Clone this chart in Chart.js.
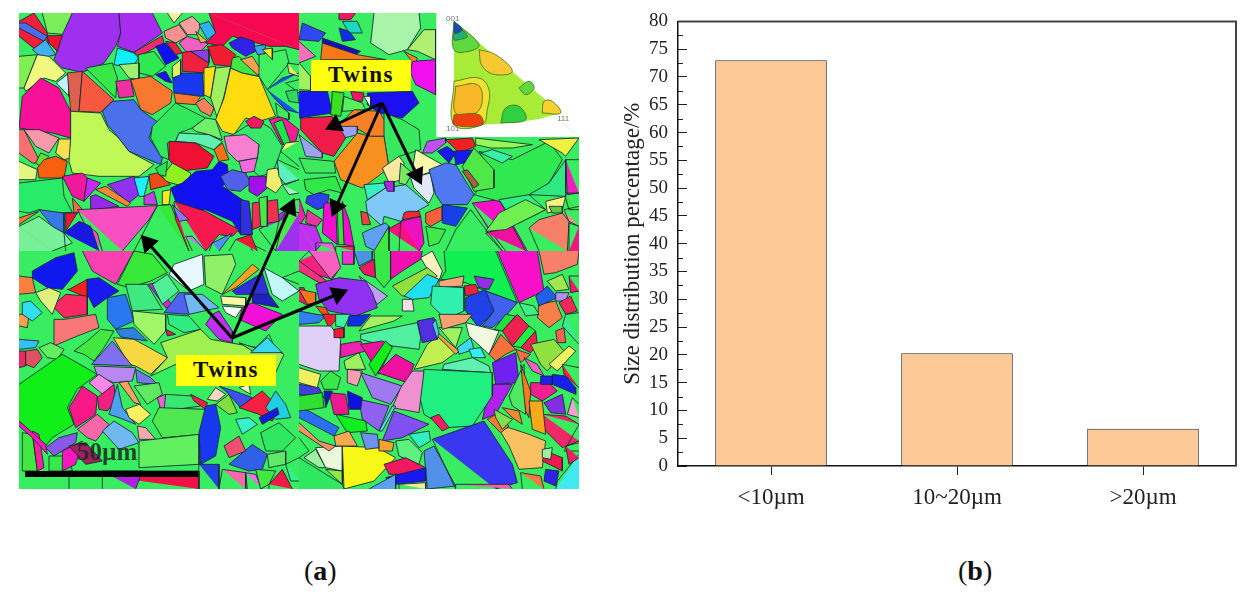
<!DOCTYPE html>
<html>
<head>
<meta charset="utf-8">
<script src="https://cdn.jsdelivr.net/npm/chart.js@4/dist/chart.umd.min.js"></script>
<style>
  html, body { margin: 0; padding: 0; background: #fff; }
  body { position: relative; width: 1254px; height: 598px; overflow: hidden; font-family: "Liberation Serif", serif; }
  canvas { position: absolute; }
  #mapChart { left: 19px; top: 13px; filter: blur(0.55px); }
  #barChart { left: 610px; top: -9px; }
  .tag { position: absolute; background: #ffff10; font: bold 23px "Liberation Serif", serif; letter-spacing: 1.5px;
         color: #111; text-align: center; width: 100px; height: 31px; line-height: 30px; }
  .pole { position: absolute; font: 8px "Liberation Sans", sans-serif; color: #777; }
  .caption { position: absolute; top: 555px; font: 28px "Liberation Serif", serif; color: #111; }
  #scaleText { position: absolute; left: 77px; top: 438px; font: bold 25px "Liberation Serif", serif; color: #1a2a20; opacity: .85; }
</style>
</head>
<body>
<canvas id="mapChart" width="560" height="476" style="width:560px;height:476px"></canvas>
<canvas id="barChart" width="640" height="539" style="width:640px;height:539px"></canvas>
<div class="tag" style="left:311px;top:60px">Twins</div>
<div class="tag" style="left:176px;top:355px">Twins</div>
<div id="scaleText">50µm</div>
<div class="pole" style="left:446px;top:14px">001</div>
<div class="pole" style="left:446px;top:124px">101</div>
<div class="pole" style="left:557px;top:114px">111</div>
<div class="caption" style="left:304px">(<b>a</b>)</div>
<div class="caption" style="left:958px">(<b>b</b>)</div>
<script>
// bar chart values
const sizeLabels = ['<10µm', '10~20µm', '>20µm'];
const sizeShare = [73, 20.3, 6.7];
const minorTicks = [2.5, 7.5, 12.5, 17.5, 22.5, 27.5, 32.5, 37.5, 42.5, 47.5, 52.5, 57.5, 62.5, 67.5, 72.5, 77.5];

// grain outlines, [colour, x, y, x, y...] in 3x units of each quarter
const grainsTL = [
  ['#f0203c',0,25,45,0,85,60,90,110,50,110,0,70],['#4a6ee8',0,30,20,30,85,70,75,85,0,45],['#78ee58',70,0,160,0,140,65,85,60],
  ['#a030f0',160,0,300,0,305,60,290,100,255,150,190,178,130,165,105,140,130,65],['#a82cf0',300,0,400,0,430,60,345,118,295,100,305,60],
  ['#f01030',85,68,130,68,115,115,90,90],['#40b0f0',40,110,80,80,110,125,70,135],['#f02a70',345,118,430,68,435,90,360,130],
  ['#80f050',0,130,55,125,15,225,0,225],['#f0f880',55,125,90,130,140,180,110,205,75,195,20,235,15,225],
  ['#10f0f8',295,105,345,120,358,135,340,165,285,155],['#30e850',358,125,405,115,440,160,400,190,360,180],['#a0f070',300,155,360,150,360,200,330,195],
  ['#c0f4ff',112,210,150,180,150,250],['#e06050',145,180,190,175,180,295,155,295],['#38e848',200,165,280,150,295,195,290,255],['#f85840',190,175,285,260,245,298,180,295],
  ['#f030a0',290,205,335,200,345,250,300,255],['#f87830',335,200,395,190,460,235,455,270,400,305,365,290],['#1010f0',410,100,440,90,480,135,440,155],
  ['#f89090',435,55,480,35,505,70,470,90,440,75],['#f8a0a0',480,30,520,10,545,35,535,65,505,65],['#f8f0a0',445,0,490,0,465,30],['#f060c0',480,90,505,70,570,90,540,120,500,115],
  ['#f02040',440,85,470,90,490,120,470,125],['#30b0f0',540,35,570,25,592,60,565,80],['#f8b040',530,55,565,85,545,90],
  ['#f80850',570,0,840,0,840,110,800,100,750,100,640,70,610,100,560,90,590,60],['#f02040',490,118,515,115,570,150,560,180,490,175],['#f01c30',565,100,610,95,650,125,635,160,585,155],
  ['#3020e8',630,90,665,72,705,85,710,115,680,130,640,105],['#40a0f0',705,100,740,95,735,125,715,125],['#9040e0',515,115,570,110,570,150],
  ['#2010f0',410,185,440,175,460,210,440,205],['#1838f0',460,180,550,180,555,250,465,240],['#e0f060',460,160,485,140,485,185,460,195],
  ['#f87830',465,240,545,250,530,275,470,270],['#f88058',530,270,555,255,585,285,575,310,545,295],
  ['#ffe018',555,165,590,160,575,255,555,245],['#a0f060',590,165,635,160,615,250,595,315,575,255],['#ffdc10',635,165,670,180,720,190,745,250,770,310,720,325,680,315,645,365,610,355,590,320,615,255],
  ['#1a50f0',745,230,790,195,840,180,840,300,800,290,770,260],['#40e840',640,135,660,130,720,190,670,180,635,165],['#f8a050',665,140,700,130,735,185,715,185],
  ['#40f060',720,125,800,110,810,150,745,230,720,190],['#f8ec20',730,110,760,105,760,140],['#f0e860',805,150,840,155,840,190,810,180],['#f01838',800,210,840,200,840,240],['#30d860',800,235,835,230,840,270,810,265],
  ['#f02090',750,320,790,310,840,350,830,385,790,395],['#18e848',765,330,790,320,815,390,795,395],['#40e860',770,270,810,300,810,320,775,310],
  ['#f81098',0,345,10,250,65,195,120,225,155,295,155,375,100,360],['#f87070',0,350,15,350,65,450,40,450,0,420],['#f898a8',15,350,60,350,120,375,90,420,50,400],
  ['#f8e050',120,378,155,378,155,435,135,440,110,420],['#60e030',65,420,90,430,65,460,50,450],['#f86010',55,465,75,440,110,430,145,445,135,495,60,495],['#e0f880',0,445,55,470,50,500,0,500],
  ['#c0f858',155,295,245,300,270,350,300,375,330,415,405,455,360,490,240,490,160,480,150,445,155,375],
  ['#4a70ec',250,295,280,265,345,260,365,290,420,330,400,345,390,375,430,435,425,455,390,440,330,415,295,370,265,335],
  ['#30e85a',400,340,470,270,560,315,520,345,480,360,470,385,445,390,450,440,425,430,395,375],['#70f068',520,345,560,315,590,320,610,380,570,365,530,355],
  ['#60f0b0',470,385,480,360,570,365,610,385,585,410,530,390],['#38e868',630,370,650,360,680,340,720,325,755,345,790,400,780,430,760,480,720,490,700,470,715,435,720,395],
  ['#f01034',450,385,530,390,585,430,565,465,480,475,450,440],['#f87018',585,410,610,390,630,440,600,445],['#f880d0',615,370,680,365,720,395,715,435,655,445,625,415],['#f868e0',660,445,715,435,705,475,670,480],
  ['#f01860',680,325,705,310,735,325,725,345,695,345],
  ['#90f020',430,490,460,450,515,480,510,525,440,505],['#30e050',410,465,445,445,440,490,420,485],
  ['#1010f0',455,525,490,510,530,475,580,470,600,445,625,455,630,500,610,520,640,540,670,560,690,570,700,665,665,665,640,625,560,590,540,590,470,565],
  ['#5060e8',605,490,640,470,680,480,695,510,665,535,625,530],['#a010e8',690,490,740,490,745,525,715,550,690,535],['#f0f070',745,470,775,465,790,515,770,540,740,520],
  ['#60f0c0',775,440,840,470,840,500,800,515,780,490],['#a0f0c0',790,515,840,500,840,540,810,545],['#f0fa70',785,415,800,390,840,385,840,460],
  ['#28ec68',0,510,130,495,135,550,160,598,110,600,60,590,30,600,0,595],['#f0189c',130,490,190,480,205,495,195,565,160,550],['#c828f8',205,495,245,510,195,565],['#9030f0',265,515,345,490,360,545,330,570],
  ['#20f0f8',345,495,390,490,375,550,360,550],['#f88838',230,530,260,520,335,570,325,580],['#9828e8',215,550,230,545,300,580,215,592],['#f04818',390,485,415,480,455,515,395,530],
  ['#c040e0',375,550,405,535,415,575,375,575],['#f8e820',430,535,455,530,450,575,430,575],['#f86848',160,555,195,595,165,600],
  ['#f850c0',175,590,415,578,390,620,310,714,250,714,235,660,195,630],['#38e838',415,578,455,575,510,714,345,714],['#f81850',465,565,560,595,660,650,640,670,600,665,560,714,510,714,470,620],['#9070ff',460,575,510,620,480,625],
  ['#3878e8',60,590,135,600,135,660,100,640],['#f01838',140,600,175,600,140,655],['#78f098',0,640,60,610,100,640,135,660,160,690,100,714,0,714],['#1818e0',135,660,180,625,215,640,240,714,140,714],['#f87830',0,615,60,595,0,635],
  ['#a030f0',720,650,800,590,840,600,840,714,770,714],['#3030e0',665,560,690,565,700,665,665,665],['#f03050',700,570,775,560,780,625,750,630,700,650],['#48e848',720,555,745,550,745,640,725,640],
  ['#30f0a0',690,690,740,714,700,714],['#f01838',650,680,695,665,715,714,630,714],['#5090f0',580,690,640,660,600,714,570,714],['#c080f0',500,670,520,670,560,714,520,714],['#48e848',780,625,830,560,840,560,840,600,800,590,770,714,760,714]
];
const grainsTR = [
  ['#a0f060',0,150,35,190,35,232,0,230],
  ['#a8f4a8',225,0,360,0,365,45,325,110,270,125,215,90],['#b0f070',325,110,375,50,410,50,410,140,355,115],['#3048f0',10,30,80,60,60,85,0,80],['#f870b8',0,85,50,130,0,150],
  ['#f01860',120,0,170,0,155,20,120,20],['#20d8c0',130,25,175,25,190,60,150,60],['#1030e0',120,45,150,55,170,80,130,85],['#1010c0',70,75,185,115,170,125,70,90],['#f87818',70,90,175,125,260,140,225,140,65,140],
  ['#f88020',315,115,355,135,345,170,335,180,335,140],['#f010f0',340,145,410,140,410,245,350,215,335,180],['#1818f0',0,235,85,235,100,300,0,315],['#38e020',100,235,135,240,125,310,95,305],
  ['#f01860',155,235,195,240,190,265,165,265],['#58f058',135,250,190,270,200,290,130,295],['#1c10f0',205,240,340,235,360,270,310,315,240,300,205,275],['#f0f0f0',195,250,215,250,215,285],
  ['#f88028',165,290,240,295,275,350,255,370,215,370,180,350,130,345,120,335],['#9fa0f0',120,340,175,340,175,365,135,375],['#f01c48',5,315,100,310,140,375,105,430,70,420,5,350],['#a0a0f0',0,365,70,420,70,435,20,430],
  ['#38e860',255,300,310,320,360,350,365,410,300,430,270,465,255,375],['#f89020',175,360,215,370,255,370,270,465,190,525,125,500,105,445],
  ['#f8e8a0',250,465,300,430,315,450,310,500,270,510],['#f8f8a8',350,410,430,455,385,480,355,490,340,470],['#78e860',305,450,340,480,320,515,300,510],['#e0e8f8',335,495,395,480,405,540,390,570,345,525],
  ['#5078f0',390,470,440,450,470,455,525,545,505,575,430,575,410,545],['#38f0c0',195,515,255,510,260,525,205,560],['#80c8f8',200,565,260,525,320,515,390,575,345,600,305,625,255,610,250,640,205,600],['#b020e8',255,505,285,505,285,535,265,535],
  ['#40e860',0,435,105,445,110,480,20,480],['#30e848',15,500,110,490,130,540,90,530,45,545,20,530],['#3040e8',25,550,60,540,90,545,85,580,55,590,20,570],['#f020a8',0,555,20,610,0,640],
  ['#f010d0',75,570,110,570,115,695,70,660],['#f010c8',130,565,150,620,165,700,135,695],['#40e040',115,580,130,585,135,695,118,695],['#e838a0',25,590,70,620,55,640,20,630],['#c030f0',0,630,50,640,70,690,50,714,0,714],
  ['#f060d8',50,690,100,690,110,714,50,714],['#f03050',110,700,165,700,165,714,110,714],['#60a0f0',210,650,260,630,270,640,230,714,200,700,190,660],['#f04040',185,595,205,600,215,635,190,635],
  ['#f81080',265,650,300,630,355,620,370,690,360,714,270,714],['#40e840',225,714,270,640,270,714],['#f010c0',305,625,365,610,375,690,360,714,300,714],['#f02838',325,595,360,595,365,610,310,620,315,600],
  ['#f8603c',380,600,430,580,430,620,395,640,380,630],['#1840e8',430,575,505,585,490,610,470,640,430,630],['#28f050',515,590,610,714,440,714,470,650],['#40e848',380,640,440,650,420,690,390,700,385,665],
  ['#f810c8',520,570,600,560,685,714,620,714,570,650],['#f010a0',560,660,640,640,680,714,610,714],['#30e850',525,545,575,480,540,415,640,440,750,385,790,440,750,510,690,550,600,565],
  ['#38f0a8',580,410,640,430,610,450,545,420],['#98f858',530,375,700,395,640,405,575,405,530,395],['#f02020',440,380,520,375,530,400,480,420,460,400],['#f0f040',720,380,840,375,800,430,790,420],
  ['#c050f0',385,385,440,375,440,390,400,420,370,420],['#1818f0',415,415,445,400,470,420,450,450],['#1818f0',465,415,525,410,520,445,470,455],['#50e848',525,405,585,470,585,525,525,535,490,460],['#a86040',490,475,505,470,540,515,525,525],
  ['#30f080',600,560,690,545,740,590,660,630,620,590],['#70f050',600,600,620,590,680,560,740,590,620,650,560,655],['#f88068',690,645,720,620,790,600,810,625,805,714,720,714],['#f8f080',740,565,800,550,790,590,745,600],['#60c840',750,580,790,580,790,600,760,600],
  ['#f020c0',800,440,840,440,840,540,805,545],['#38e848',795,540,840,540,840,590,810,590],['#f89090',795,590,840,580,840,640,810,625],['#f01880',810,630,840,640,840,714,810,714],['#30e880',690,545,750,510,800,440,800,550]
];
const grainsBL = [
  ['#f8803c',0,75,40,80,50,125,0,130],['#f8a050',0,190,30,190,25,230,0,225],['#38c0f0',0,265,60,270,50,290,0,295],['#f02860',0,300,20,300,20,345,0,350],
  ['#1018f0',40,60,110,20,165,5,175,60,130,115,85,110,40,80],['#f840b0',190,0,345,0,290,100,220,60],['#38e838',345,0,400,10,445,65,395,90,330,110,295,100],['#e8f8ff',465,40,550,10,555,100,510,120,450,70],['#90f068',555,15,640,10,650,40,610,130,560,105],
  ['#f8a020',610,130,700,40,720,55,650,110,620,125],['#3030d8',640,120,730,65,750,130,650,130],['#c0f8f8',735,50,790,80,840,120,790,150,760,130],['#f8f8a0',605,135,680,140,680,165,610,160],['#ffffff',610,165,670,170,650,200,620,185],
  ['#f010d8',670,170,700,155,790,190,740,240,660,205],['#2020c0',700,130,750,130,780,170,700,155],['#c030f0',560,220,580,190,600,180,640,240,640,275,600,265],['#f8f880',790,80,840,60,840,100],
  ['#40e880',320,100,385,100,430,175,340,180],['#e020e0',388,100,410,95,465,170,440,170],['#50f098',400,100,445,70,480,120,430,160],['#5060f0',435,185,480,125,525,125,510,190],['#70b8f0',495,130,550,130,600,170,510,190],
  ['#f82020',150,115,205,85,205,140,145,115],['#1818f0',205,85,240,80,300,120,265,140,225,170,205,130],['#f82860',100,165,140,130,205,135,205,190,135,200],['#f87878',105,205,135,205,230,190,240,230,175,255,105,285],['#2878f0',265,140,320,130,345,210,290,235,265,205],
  ['#e0f080',50,125,90,110,125,125,100,190,65,150],['#30e0f0',10,155,35,150,70,185,40,210,10,190],['#a0f868',340,180,440,190,440,240,405,280,375,250,345,220],['#30ec80',445,190,510,195,545,235,495,245,450,220],['#f01850',440,235,470,250,445,255],['#3080e0',290,235,345,230,385,270,305,258],
  ['#a0f050',425,275,545,235,575,265,660,280,775,300,795,310,770,365,700,400,500,400,470,340,395,375,445,320],['#f8d840',283,260,345,265,445,320,395,370,350,345,330,340],['#40f060',660,275,700,300,750,250,770,295,720,295],['#38d8f0',695,305,745,260,790,305],
  ['#40e840',165,300,205,270,245,235,285,240,255,290,225,330,195,310],['#60f060',60,290,95,275,135,295,115,325,85,320],['#e05060',20,300,55,295,70,320,45,350,20,340],['#8070f0',218,340,280,270,340,345],['#b888f0',225,345,350,350,340,390,285,395,235,375],['#7878f0',350,355,395,380,415,400,355,395],
  ['#10f018',0,400,130,310,235,370,175,415,145,470,165,520,100,560,80,585,0,510],['#f888e8',210,395,240,370,285,400,250,430],['#f81888',150,470,190,405,235,435,230,490,170,530],['#f02080',235,440,285,400,290,450,265,480,240,475],
  ['#f868a8',175,535,235,490,270,520,230,570,205,560],['#70b8f0',250,540,285,510,340,545,360,575,300,595],['#8858e8',80,590,120,560,175,545,170,575,105,615],['#50a0f0',295,400,310,470,350,520,300,500,270,490],['#f8a060',300,395,325,390,365,460,345,455],
  ['#60e860',345,405,420,395,430,430,385,460],['#f8f060',320,475,360,460,395,490,360,520,330,500],['#f060d0',415,440,440,430,440,470,425,475],['#38e870',440,430,520,435,545,465,470,475,435,480],['#50e850',420,470,560,475,555,550,490,555,430,560,400,510],['#f8a8b0',355,525,380,530,410,565,360,565],
  ['#60f060',360,570,540,550,540,640,360,650],['#f02040',515,430,565,455,560,475,525,450],['#4050e8',600,405,660,425,700,440,665,470,620,420],['#f8d8c0',565,445,590,410,620,430,595,450],['#80e040',590,460,630,430,655,485,630,490],['#f8f0b0',660,410,690,400,695,430],
  ['#1838f0',560,465,590,460,605,530,590,615,545,640,540,545],['#2040e8',540,640,600,640,600,714,535,714],['#f868a8',610,655,680,665,680,714,600,714],['#f868f0',680,665,710,670,730,714,685,714],['#30e860',725,545,780,515,830,560,790,600,740,600],
  ['#3060e8',630,640,700,580,745,610,730,655,690,660],['#f05070',615,585,660,555,680,600,630,620],['#38f0c8',650,505,690,500,715,520,670,550],['#f82040',660,470,730,420,780,470,760,510,720,490],['#20d0e0',740,470,770,420,800,460,815,500,770,505],['#1818d8',720,500,775,470,780,490,730,520],
  ['#60e868',745,610,800,600,800,640,750,650],['#40e840',710,655,770,660,750,700,725,714],['#f01848',750,700,790,655,820,714,750,714],['#30f098',800,640,840,620,840,690,815,690],
  ['#40e840',10,545,40,550,55,660,10,660],['#f820a0',40,540,60,550,75,650,55,660],['#f818c0',0,510,80,580,85,610,40,560,0,525],['#38e848',90,615,150,615,160,660,90,660],
  ['#f818c0',130,600,190,570,170,640,130,660],['#a02060',150,585,200,575,250,630,200,640],['#f01048',150,660,540,660,540,714,150,714],['#b020e0',250,660,370,660,350,714,250,714]
];
const grainsBR = [
  ['#4040e0',0,400,60,410,75,440,0,430],
  ['#f82080',0,30,30,0,70,0,120,55,100,85,50,70],['#f860c0',30,0,110,0,125,50,95,85],['#f83080',0,30,90,95,60,95,0,60],['#5090e0',165,0,220,0,220,25,180,45],['#f01860',180,50,225,25,230,80,195,70],['#f030d0',130,0,165,0,165,40,130,40],
  ['#38e848',225,0,275,0,275,85,255,110,230,80],['#f010b0',275,0,370,0,365,25,310,60,275,85],['#10f050',435,0,590,0,655,155,560,120,500,95,425,85,440,60],['#f8f0c0',365,20,400,0,430,60,420,90,385,55],['#f810c8',595,0,715,0,735,120,660,155],
  ['#90e040',280,105,385,50,415,75,350,135,310,135],['#20e0f0',315,135,385,70,420,85,390,140,340,145],['#f8a878',420,90,495,75,490,105,420,110],['#c0a0f0',180,75,230,110,265,135,235,160],['#9030f0',50,100,120,80,200,90,220,125,235,170,170,195,90,180,60,145],
  ['#f02060',0,110,15,110,30,165,0,150],['#f87818',0,115,50,125,50,155,25,160],['#3080f0',0,180,80,195,60,215,0,220],['#f85018',50,165,80,170,90,190,70,190],['#f82030',70,190,125,190,90,230],['#40f0a0',110,190,155,190,135,230,110,225],['#1030e0',150,195,215,190,185,225,145,225],
  ['#e0d0f8',0,225,95,225,125,265,120,360,60,360,0,340],['#f01838',105,235,135,230,135,260,105,260],['#a8f060',215,195,310,195,285,210,180,240],['#50f0a0',185,250,355,215,365,260,360,295,240,280,185,265],['#f0f060',0,350,65,370,55,410,0,395],
  ['#30f0b0',400,105,495,110,495,180,440,205,395,160],['#f8e0e8',310,145,340,145,345,180,310,180],['#2040e8',500,140,560,115,585,180,540,230,500,180],['#4060f0',560,120,655,155,620,195,580,230,550,225,585,180],['#f02040',495,105,530,100,540,125,500,135],['#9030e0',525,75,585,85,570,115,540,110],
  ['#f020b0',125,280,185,270,200,300,125,320],['#f010a0',185,280,250,270,280,285,240,370],['#10f018',210,340,260,270,280,290,230,375],['#f010a0',235,365,290,310,345,340,325,395],['#a0f060',135,330,180,305,200,355,140,355],['#38e848',65,390,95,360,125,380,115,415,75,415],['#f8a0b0',145,355,190,360,175,405,145,395],
  ['#c0f050',345,355,385,280,415,255,470,305,430,335],['#f8a040',410,240,480,300,470,310,415,255],['#a0f060',420,230,490,230,470,290],['#5030e0',355,210,405,200,415,265,370,275],['#50c8f0',400,220,410,205,420,245,415,265],['#f8a070',420,190,520,190,500,215,430,235],['#f0f8e0',500,215,600,240,570,310,510,255],
  ['#40d8f0',475,290,515,260,525,295,480,310],['#30f0f0',510,295,545,290,560,320,520,320],['#60f0b0',435,340,520,320,570,345,575,365,500,360,430,355],['#f8703c',570,310,605,250,650,295,620,310,590,330],['#20e040',585,235,620,190,650,195,610,240],['#f02050',610,240,655,190,695,230,640,285],['#20f040',640,285,690,225,710,240,665,290],['#f02050',665,290,710,240,715,280,695,305],
  ['#7020f0',580,335,650,305,660,395,590,400],['#b020f0',575,400,640,400,590,490,550,505],['#20f080',375,355,580,365,580,435,520,525,440,530,375,490,360,430],['#f87040',650,295,695,310,665,335],['#f060c0',675,320,715,340,735,375,700,360],
  ['#f88048',720,160,770,150,790,200,750,230,715,200],['#90e040',695,280,765,265,795,300,745,360,725,340],['#2060e8',710,135,745,105,775,140,720,165],['#40f080',660,155,705,165,720,190,680,195],['#f0f060',750,340,810,285,830,300,775,360],['#f86050',770,240,795,230,800,275,775,275],
  ['#f8806a',720,0,840,0,835,40,770,65,735,70],['#a0e850',745,90,790,70,810,115,770,120],['#b090f0',770,125,810,125,800,150,770,150],['#f02858',780,155,815,135,835,180,800,190],['#40e890',800,190,840,185,840,280,790,225],['#f01870',810,75,840,75,840,120,815,125],
  ['#f02090',695,395,750,395,775,420,730,450,695,430],['#f82040',790,340,840,350,840,410,795,370],['#1820e8',760,370,800,375,830,410,830,430,760,400],['#2020f0',725,375,760,375,760,400,725,400],['#f8a0d0',820,440,840,460,840,500,805,490],['#8030e0',735,455,790,430,800,490,755,485],['#f02868',730,490,800,495,840,520,840,570,790,590,730,530],
  ['#50e860',660,370,675,340,680,490,640,465,630,435],['#f87820',665,340,695,420,690,500,680,480],['#f8a818',690,450,730,450,740,550,700,535],['#5090e8',375,600,405,585,470,705,385,714],['#3838f0',400,565,555,510,640,640,655,695,590,714,470,714],['#f860a8',470,700,630,700,640,714,470,714],
  ['#f8c060',600,535,630,530,690,550,740,570,730,650,660,655,630,585],['#f87830',565,505,590,490,630,525,605,545],['#80e050',585,475,640,505,610,535,590,500],['#f88830',610,470,660,480,670,520,640,500],['#f01850',740,600,790,620,790,660,750,640,730,630],['#3020e8',740,655,780,660,770,705,735,690],['#a0f0a0',730,595,760,590,755,625,730,620],
  ['#f87840',665,665,725,675,735,714,670,714],['#38e878',795,600,840,520,840,600],['#40e8f0',775,690,840,610,840,714,770,714],['#f02060',800,585,840,575,840,620,810,640],
  ['#30e860',0,620,130,700,135,714,0,714],['#a0f0a0',15,620,50,595,80,650,60,650],['#e8f8d8',50,590,130,585,130,660,80,650],['#90e840',80,655,130,660,130,700],['#f8f818',130,585,235,590,290,620,225,690,135,714],['#f89060',0,515,60,570,110,585,90,600,0,540],['#2870f0',0,475,30,480,120,530,105,555,0,500],['#10f020',110,490,200,510,205,540,145,545],['#f8a850',105,555,150,540,175,585,110,585],
  ['#a078f0',185,365,310,405,275,460,220,440],['#9060f0',180,445,270,465,240,540,190,505],['#8050f0',285,480,390,520,310,560,250,570],['#f090d0',305,410,340,360,375,360,360,485,280,470],['#60d0f0',240,540,280,465,290,465,250,540],['#f8a030',240,565,285,575,280,600,240,600],['#60f080',290,570,330,565,370,605,360,640,300,615],['#30f0c0',330,550,390,540,395,570,360,590],['#7090f0',185,545,235,550,240,590,200,595],
  ['#f01860',255,640,320,620,380,650,350,670,270,670],['#1818f0',260,680,380,650,380,690,290,700],['#f8e8a0',300,700,380,695,380,714,300,714],['#60a0f0',210,714,290,670,290,714],['#f02060',395,500,420,490,450,530,430,540],
  ['#f01890',90,425,140,430,150,490,105,490],['#1010e0',145,420,190,440,185,475,150,475],['#30e030',0,435,70,425,75,470,0,480],['#1018c0',75,420,100,420,80,470],['#30f060',0,560,30,600,0,620]
];
// inverse pole figure inset, same units as grainsTR
const insetBox = ['#ffffff',412,0,840,0,840,372,412,372];
const insetTriangle = ['#a8ec38',465,25,785,300,720,318,640,330,550,335,465,335];
const insetBlobs = [
  ['#60d840',465,25,540,95,510,115,465,110],['#20b078',465,55,485,50,505,70,480,80,465,80],['#1a4cb0',465,25,490,48,478,60,465,60],
  ['#f8c830',540,110,590,125,640,175,590,185,550,160],['#f0e030',465,205,540,195,570,230,565,290,550,335,465,335],['#f8b828',470,220,535,215,550,260,530,300,470,300],
  ['#f04010',465,305,540,305,550,335,465,335],['#30d040',605,330,620,285,660,280,680,320],['#60d840',660,225,690,205,705,225,680,245],['#f8d030',730,300,735,265,760,265,785,300]
];
// arrows and scale bar, x and y in page pixels of the map
const arrowLines = [
  [382,103,335,125],[382,103,417,175],[382,103,336,207],
  [232,338,148,243],[232,338,290,208],[232,338,338,294]
];
const scaleBar = [25,474,198,474];
const seamX = [19, 299, 579];
const seamY = [13, 251, 489];

function toPoints(g, ox, oy) {
  const pts = [];
  for (let i = 1; i < g.length; i += 2) pts.push({ x: ox + g[i] / 3, y: oy + g[i + 1] / 3 });
  pts.push(pts[0]);
  return pts;
}
// no outline along the cut between quarters
function seamBorder(c) {
  const a = c.p0.parsed, b = c.p1.parsed;
  if ((a.x === b.x && seamX.includes(a.x)) || (a.y === b.y && seamY.includes(a.y))) return 'rgba(0,0,0,0)';
  return undefined;
}
function grainSet(g, ox, oy, extra) {
  return Object.assign({
    data: toPoints(g, ox, oy), showLine: true, fill: 'shape', backgroundColor: g[0],
    borderColor: 'rgba(20,40,50,.85)', borderWidth: 1, pointRadius: 0,
    segment: { borderColor: seamBorder }
  }, extra || {});
}

const mapSets = [grainSet(['#38ee60',0,0,1680,0,1680,1428,0,1428], 19, 13)];
grainsTL.forEach(g => mapSets.push(grainSet(g, 19, 13)));
grainsTR.forEach(g => mapSets.push(grainSet(g, 299, 13)));
grainsBL.forEach(g => mapSets.push(grainSet(g, 19, 251)));
grainsBR.forEach(g => mapSets.push(grainSet(g, 299, 251)));
mapSets.push(grainSet(insetBox, 299, 13, { borderWidth: 0 }));
mapSets.push(grainSet(insetTriangle, 299, 13, { borderWidth: 0 }));
insetBlobs.forEach(g => mapSets.push(grainSet(g, 299, 13, { tension: 0.4, borderColor: 'rgba(60,110,30,.8)' })));
mapSets.push({
  data: [{ x: scaleBar[0], y: scaleBar[1] }, { x: scaleBar[2], y: scaleBar[3] }],
  showLine: true, borderColor: '#000', borderWidth: 6, pointRadius: 0
});
arrowLines.forEach(a => {
  const angle = Math.atan2(a[2] - a[0], a[1] - a[3]) * 180 / Math.PI;
  mapSets.push({
    data: [{ x: a[0], y: a[1] }, { x: a[2], y: a[3] }],
    showLine: true, borderColor: '#000', borderWidth: 3,
    pointStyle: 'triangle', pointRadius: [0, 8], pointRotation: angle,
    pointBackgroundColor: '#000', pointBorderColor: '#000'
  });
});

new Chart(document.getElementById('mapChart'), {
  type: 'scatter',
  data: { datasets: mapSets.reverse() }, // chart.js paints the first dataset last
  options: {
    responsive: false,
    animation: false,
    events: [],
    layout: { padding: 0, autoPadding: false },
    plugins: { legend: { display: false }, tooltip: { enabled: false } },
    scales: {
      x: { type: 'linear', min: 19, max: 579, display: false },
      y: { type: 'linear', min: 13, max: 489, reverse: true, display: false }
    }
  }
});

// inward minor ticks and the grey top/right frame lines
const frameTicks = {
  id: 'frameTicks',
  afterDraw(chart) {
    const ctx = chart.ctx, a = chart.chartArea, y = chart.scales.y;
    ctx.save();
    ctx.strokeStyle = '#222';
    ctx.lineWidth = 1;
    ctx.beginPath();
    minorTicks.forEach(v => {
      const py = Math.round(y.getPixelForValue(v)) + 0.5;
      ctx.moveTo(a.left, py);
      ctx.lineTo(a.left + 5, py);
    });
    ctx.stroke();
    ctx.strokeStyle = '#444';
    ctx.lineWidth = 2;
    ctx.beginPath();
    ctx.moveTo(a.left, a.top);
    ctx.lineTo(a.right, a.top);
    ctx.lineTo(a.right, a.bottom);
    ctx.stroke();
    ctx.restore();
  }
};

new Chart(document.getElementById('barChart'), {
  type: 'bar',
  data: {
    labels: sizeLabels,
    datasets: [{
      data: sizeShare,
      backgroundColor: '#fcc896',
      borderColor: '#2a2a2a',
      borderWidth: 1,
      barPercentage: 0.6,
      categoryPercentage: 1
    }]
  },
  plugins: [frameTicks],
  options: {
    responsive: false,
    animation: false,
    events: [],
    layout: { padding: { top: 12, right: 14, left: 0, bottom: 0 }, autoPadding: false },
    plugins: { legend: { display: false }, tooltip: { enabled: false } },
    scales: {
      x: {
        afterFit(s) { s.height = 64; },
        border: { color: '#111', width: 1.5 },
        grid: { drawOnChartArea: false, offset: false, tickLength: 9, color: '#222' },
        ticks: { color: '#222', padding: 9, font: { family: 'Liberation Serif', size: 23 } }
      },
      y: {
        min: 0,
        max: 80,
        afterFit(s) { s.width = 68; },
        border: { color: '#111', width: 1.5 },
        grid: { drawOnChartArea: false, tickLength: -9, color: '#222' },
        ticks: { stepSize: 5, color: '#222', padding: 19, font: { family: 'Liberation Serif', size: 19 } },
        title: {
          display: true,
          text: 'Size distribution percentage/%',
          color: '#222',
          padding: { top: 9, bottom: 0 },
          font: { family: 'Liberation Serif', size: 23 }
        }
      }
    }
  }
});
</script>
</body>
</html>
